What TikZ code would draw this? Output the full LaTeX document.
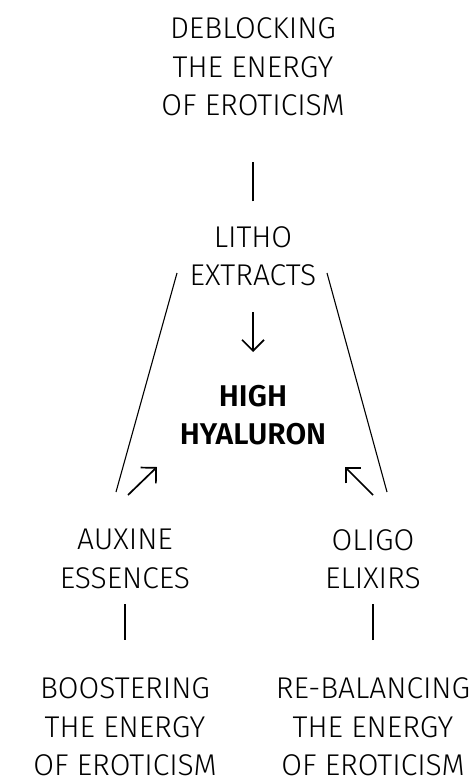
\documentclass[tikz,border=0pt]{standalone}
\usepackage{fontspec}
\setmainfont{Fira Sans}[UprightFont=* Light, BoldFont=* SemiBold]
\usetikzlibrary{arrows.meta}
\tikzset{>/.tip={Straight Barb[length=11pt,width=22pt]}}
\tikzset{label/.style={align=center, inner sep=0pt, font=\fontsize{30}{38.5}\selectfont}}
\tikzset{link/.style={line width=1.1pt}}
\tikzset{flow/.style={->, line width=1.7pt}}

\begin{document}
\begin{tikzpicture}[x=1pt, y=-1pt]
\useasboundingbox (0,0) rectangle (475,781);
\node[label] (deblock) at (253,67) {DEBLOCKING\\THE ENERGY\\OF EROTICISM};
\node[label] (litho) at (253,256) {LITHO\\EXTRACTS};
\node[label, font=\bfseries\fontsize{30}{38.5}\selectfont] (hyal) at (253,415) {HIGH\\HYALURON};
\node[label] (auxine) at (125,559) {AUXINE\\ESSENCES};
\node[label] (oligo) at (373,559) {OLIGO\\ELIXIRS};
\node[label] (boost) at (125,727) {BOOSTERING\\THE ENERGY\\OF EROTICISM};
\node[label] (rebal) at (373,727) {RE-BALANCING\\THE ENERGY\\OF EROTICISM};

% slanted side lines
\coordinate (lt) at (177,273);
\coordinate (lb) at (116,492);
\coordinate (rt) at (327,273);
\coordinate (rb) at (387,492);
% arrows into the centre
\coordinate (lithofrom) at (253,312);
\coordinate (lithoto) at (253,352);
\coordinate (auxfrom) at (128,495);
\coordinate (auxto) at (157,467);
\coordinate (olifrom) at (373,495);
\coordinate (olito) at (345,467);

\draw[link, shorten <=85pt, shorten >=64pt] (deblock) -- (litho);
\draw[link] (lt) -- (lb);
\draw[link] (rt) -- (rb);
\draw[link, shorten <=51pt, shorten >=74pt] (auxine) -- (boost);
\draw[link, shorten <=51pt, shorten >=74pt] (oligo) -- (rebal);

\draw[flow] (lithofrom) -- (lithoto);
\draw[flow] (auxfrom) -- (auxto);
\draw[flow] (olifrom) -- (olito);
\end{tikzpicture}
\end{document}
